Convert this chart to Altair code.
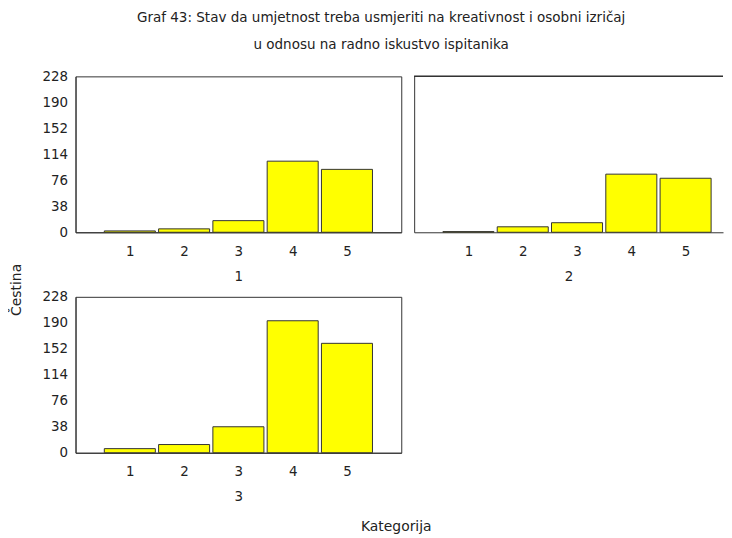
import altair as alt
import pandas as pd

categories = [1, 2, 3, 4, 5]
counts_1 = [2, 5, 17, 104, 92]
counts_2 = [1, 8, 14, 85, 79]
counts_3 = [6, 12, 38, 193, 160]
y_ticks = [0, 38, 76, 114, 152, 190, 228]
panel_labels = ["1", "2", "3"]
title_lines = ["Graf 43: Stav da umjetnost treba usmjeriti na kreativnost i osobni izričaj",
               "u odnosu na radno iskustvo ispitanika"]
y_title = "Čestina"
x_title = "Kategorija"

FONT = "DejaVu Sans"
INK = "#222222"
FRAME = "#333333"


def panel(vals, label, width, xmax, show_y, frame=True):
    df = pd.DataFrame({"cat": categories, "n": vals})
    bars = alt.Chart(df).transform_calculate(
        x0="datum.cat - 0.47", x1="datum.cat + 0.47"
    ).mark_bar(color="#FFFF00", stroke=FRAME, strokeWidth=1).encode(
        x=alt.X("x0:Q", scale=alt.Scale(domain=[0, xmax], nice=False, zero=False),
                axis=alt.Axis(values=categories, format="d", title=label, grid=False,
                              ticks=False, labelPadding=12, titlePadding=12,
                              domain=True, domainColor=FRAME)),
        x2="x1:Q",
        y=alt.Y("n:Q", scale=alt.Scale(domain=[0, 228], nice=False),
                axis=alt.Axis(values=y_ticks, labels=show_y, title=None, grid=False,
                              ticks=False, labelPadding=8, domain=True, domainColor=FRAME)),
        y2=alt.datum(0),
    )
    layers = [bars]
    if not frame:
        top = alt.Chart(df).mark_rule(color=FRAME, strokeWidth=1).encode(y=alt.datum(228))
        layers.append(top)
    ch = alt.layer(*layers).properties(width=width, height=157)
    if not frame:
        ch = ch.properties(view=alt.ViewBackground(stroke="transparent"))
    return ch


p1 = panel(counts_1, panel_labels[0], 328, 6, True)
p2 = panel(counts_2, panel_labels[1], 311, 311 / 328 * 6, False, frame=False)
p3 = panel(counts_3, panel_labels[2], 328, 6, True)

ylab = alt.Chart(pd.DataFrame({"t": [y_title]})).mark_text(
    angle=270, fontSize=14, font=FONT, color=INK, baseline="middle", align="center"
).encode(text="t:N", x=alt.value(8), y=alt.value(215)).properties(
    width=16, height=370, view=alt.ViewBackground(stroke="transparent"))

xlab = alt.Chart(pd.DataFrame({"t": [x_title]})).mark_text(
    fontSize=14, font=FONT, color=INK, baseline="middle", align="center"
).encode(text="t:N", x=alt.value(323), y=alt.value(14)).properties(
    width=648, height=10, view=alt.ViewBackground(stroke="transparent"))

grid = alt.vconcat(alt.hconcat(p1, p2, spacing=11), p3, spacing=5)
body = alt.vconcat(grid, xlab, spacing=8)

chart = alt.hconcat(ylab, body, spacing=15).properties(
    title=alt.TitleParams(text=title_lines, fontSize=13.6, lineHeight=28, font=FONT,
                          fontWeight="normal", color=INK, anchor="middle", dx=15, offset=17),
    padding=0,
    background="white",
).configure_view(stroke=FRAME, strokeWidth=1).configure_axis(
    labelFont=FONT, titleFont=FONT, labelFontSize=13.5, titleFontSize=13.5,
    labelColor=INK, titleColor=INK, titleFontWeight="normal"
)

chart.save("out.html", embed_options={"renderer": "svg", "actions": False})
